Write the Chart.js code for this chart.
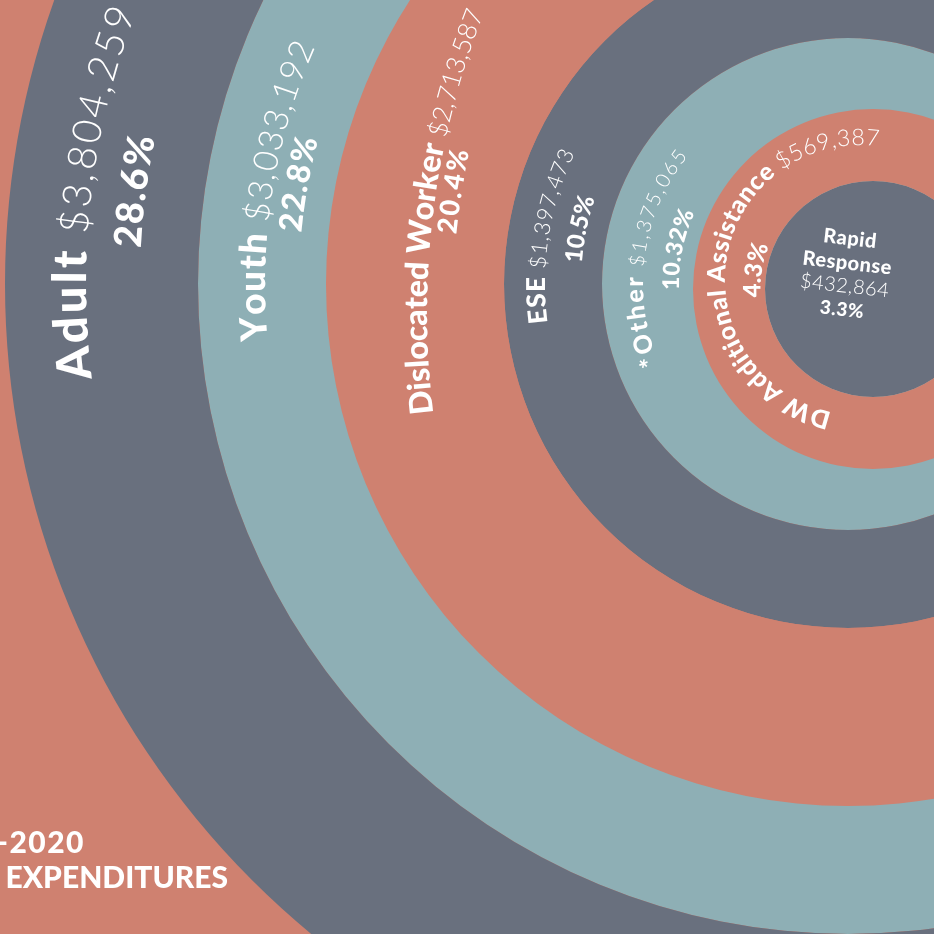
<!DOCTYPE html>
<html>
<head>
<meta charset="utf-8">
<script src="https://cdn.jsdelivr.net/npm/chart.js@4.4.0/dist/chart.umd.min.js"></script>
<style>
  html, body { margin: 0; padding: 0; background: #cf8170; }
  #wrap { position: relative; width: 934px; height: 934px; overflow: hidden; background: #cf8170; }
  #wrap canvas { position: absolute; left: 0; top: 0; }
  .title { position: absolute; color: #fff; font-family: Lato, sans-serif; font-weight: 900;
           font-size: 30px; line-height: 30px; white-space: nowrap; text-align: right; }
</style>
</head>
<body>
<div id="wrap">
  <canvas id="outer" width="934" height="934"></canvas>
  <canvas id="inner" width="934" height="934"></canvas>
  <div class="title" style="right:849px; top:826px; letter-spacing:1.5px;">2019-2020</div>
  <div class="title" style="right:706px; top:861px;">EXPENDITURES</div>
</div>
<script>
// data
const categories = ['Adult', 'Youth', 'Dislocated Worker', 'ESE', '*Other', 'DW Additional Assistance', 'Rapid Response'];
const amounts = [3804259, 3033192, 2713587, 1397473, 1375065, 569387, 432864];
const percents = [28.6, 22.8, 20.4, 10.5, 10.32, 4.3, 3.3];

// styling
const DARK = '#69707e', TEAL = '#8eafb5', SALMON = '#cf8170';
const ringColors = [DARK, TEAL, SALMON, DARK, TEAL, SALMON, DARK];
const outerRing = { idx: [0, 1, 2, 3, 4], widths: [193, 128, 178, 98, 246], radius: 843 };
const innerRing = { idx: [5, 6], widths: [72, 108], radius: 180 };

const fmt = v => '$' + v.toLocaleString('en-US');
const rad = d => d * Math.PI / 180;

// text laid along an arc; a/r = anchor around chart centre, n = normal, bend = arc radius
function drawArcLine(ctx, cx, cy, s) {
  const i = s.i;
  const parts = s.pct
    ? [{ text: percents[i] + '%', font: `900 ${s.pct}px Lato` }]
    : [{ text: categories[i] + ' ', font: `900 ${s.name}px Lato` },
       { text: fmt(amounts[i]), font: `300 ${s.amt}px Lato` }];
  const n = rad(s.n ?? s.a), a = rad(s.a), bend = s.bend ?? s.r;
  const px = cx + s.r * Math.cos(a), py = cy + s.r * Math.sin(a);
  const ox = px - bend * Math.cos(n), oy = py - bend * Math.sin(n);
  const chars = [];
  parts.forEach(p => {
    ctx.font = p.font;
    for (const ch of p.text) chars.push({ ch, font: p.font, w: ctx.measureText(ch).width });
  });
  const natural = chars.reduce((t, c) => t + c.w, 0);
  const target = rad(s.span) * bend;
  const gap = (target - natural) / (chars.length - 1);
  let t = n - target / 2 / bend;
  ctx.fillStyle = '#fff';
  ctx.textAlign = 'center';
  ctx.textBaseline = 'alphabetic';
  chars.forEach(c => {
    const th = t + c.w / 2 / bend;
    ctx.save();
    ctx.translate(ox + bend * Math.cos(th), oy + bend * Math.sin(th));
    ctx.rotate(th + Math.PI / 2);
    ctx.font = c.font;
    ctx.fillText(c.ch, 0, 0);
    ctx.restore();
    t += (c.w + gap) / bend;
  });
}

function drawBlock(ctx, cx, cy, b) {
  const i = b.i;
  const words = categories[i].split(' ');
  const lines = [
    { text: words[0], font: `900 ${b.name}px Lato` },
    { text: words[1], font: `900 ${b.name}px Lato` },
    { text: fmt(amounts[i]), font: `300 ${b.amt}px Lato` },
    { text: percents[i] + '%', font: `900 ${b.pct}px Lato` }
  ];
  ctx.save();
  ctx.translate(cx + b.r * Math.cos(rad(b.a)), cy + b.r * Math.sin(rad(b.a)));
  ctx.rotate(rad(b.rot));
  ctx.fillStyle = '#fff';
  ctx.textAlign = 'center';
  ctx.textBaseline = 'middle';
  lines.forEach((l, k) => {
    ctx.font = l.font;
    if (ctx.letterSpacing !== undefined) ctx.letterSpacing = '0.5px';
    ctx.fillText(l.text, 0, b.rows[k]);
  });
  ctx.restore();
}

function labelPlugin(lines, block) {
  return {
    id: 'ringLabels',
    afterDatasetsDraw(chart) {
      const arc = chart.getDatasetMeta(0).data[0];
      const ctx = chart.ctx;
      lines.forEach(s => drawArcLine(ctx, arc.x, arc.y, s));
      if (block) drawBlock(ctx, arc.x, arc.y, block);
    }
  };
}

const outerLabels = [
  { i: 0, a: 186.9, r: 762, span: 28, name: 47, amt: 40 },
  { i: 0, a: 187.4, r: 708, span: 9, pct: 38 },
  { i: 1, a: 189.25, r: 583, span: 29.5, name: 37, amt: 34 },
  { i: 1, a: 190.3, r: 549, span: 9.9, pct: 32 },
  { i: 2, a: 190.1, r: 421, n: 187.2, bend: 820, span: 28.5, name: 32, amt: 26 },
  { i: 2, a: 193.3, r: 397, n: 188.8, bend: 804, span: 6.0, pct: 27 },
  { i: 3, a: 189.1, r: 303, span: 33, name: 26, amt: 22 },
  { i: 3, a: 191.6, r: 267, span: 14.3, pct: 24 },
  { i: 4, a: 187.9, r: 205, span: 61.3, name: 25, amt: 20 },
  { i: 4, a: 191.5, r: 169, span: 27, pct: 23 }
];
const innerLabels = [
  { i: 5, a: 192.5, r: 149.5, n: 190, bend: 135, span: 175.9, name: 25, amt: 23 },
  { i: 5, a: 189.2, r: 112.6, span: 26.7, pct: 24 }
];
const rapidBlock = { i: 6, a: 207.4, r: 30.4, rot: 6.5, rows: [-36.5, -12, 11, 35], name: 20, amt: 20, pct: 19 };

function ringChart(id, ring, pad, lines, block) {
  return new Chart(document.getElementById(id), {
    type: 'pie',
    data: {
      labels: ring.idx.map(i => categories[i]),
      datasets: ring.idx.map((i, k) => ({
        label: categories[i],
        data: [percents[i]],
        backgroundColor: ringColors[i],
        borderWidth: 0,
        weight: ring.widths[k]
      }))
    },
    options: {
      responsive: false,
      animation: false,
      events: [],
      radius: ring.radius,
      layout: { padding: pad },
      plugins: { legend: { display: false }, tooltip: { enabled: false } }
    },
    plugins: [labelPlugin(lines, block)]
  });
}

ringChart('outer', outerRing, { left: 762, right: 0, top: 0, bottom: 366 }, outerLabels);
ringChart('inner', innerRing, { left: 812, right: 0, top: 0, bottom: 356 }, innerLabels, rapidBlock);
</script>
</body>
</html>
